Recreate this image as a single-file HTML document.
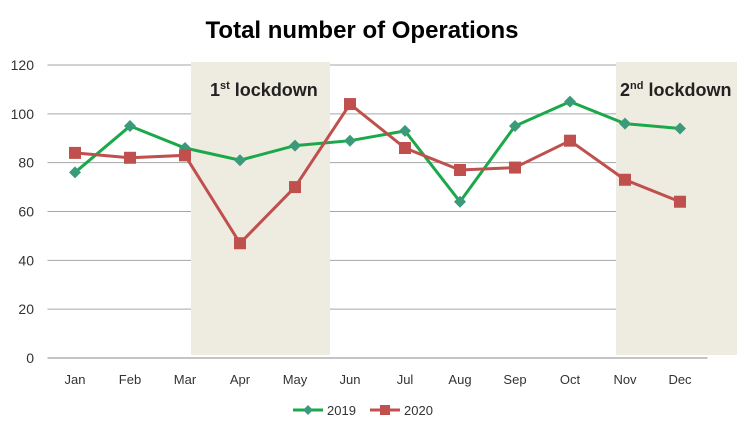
<!DOCTYPE html>
<html><head><meta charset="utf-8"><style>
body{margin:0;background:#fff}
svg{display:block;font-family:"Liberation Sans",sans-serif}
</style></head><body>
<svg width="750" height="435">
<text x="362" y="38" text-anchor="middle" font-size="24" font-weight="bold" fill="#000">Total number of Operations</text>
<g id="grid"></g>
<g id="shades"></g>
<g id="series"></g>
<g>
<line x1="293" y1="410" x2="323" y2="410" stroke="#1BA84A" stroke-width="3"/>
<path d="M308 405 L313 410 L308 415 L303 410 Z" fill="#3A9A7A"/>
<text x="327" y="415" font-size="13" fill="#333">2019</text>
<line x1="370" y1="410" x2="400" y2="410" stroke="#C0504D" stroke-width="3"/>
<rect x="380" y="405" width="10" height="10" fill="#C0504D"/>
<text x="404" y="415" font-size="13" fill="#333">2020</text>
</g>
</svg>
<script>
const months=["Jan","Feb","Mar","Apr","May","Jun","Jul","Aug","Sep","Oct","Nov","Dec"];
const s2019=[76,95,86,81,87,89,93,64,95,105,96,94];
const s2020=[84,82,83,47,70,104,86,77,78,89,73,64];
const ticks=[0,20,40,60,80,100,120];
const NS="http://www.w3.org/2000/svg";
const L=47.5,BW=55,Y0=358,Y1=65;
const x=i=>L+BW*(i+0.5);
const y=v=>Y0-(v/120)*(Y0-Y1);
function mk(t,a,p){const e=document.createElementNS(NS,t);for(const k in a)e.setAttribute(k,a[k]);p.appendChild(e);return e;}
const sh=document.getElementById('shades');
let r=mk('rect',{x:191,y:62,width:139,height:293,fill:"#EEEBE0"},sh);


r=mk('rect',{x:616,y:62,width:121,height:293,fill:"#EEEBE0"},sh);


let t=mk('text',{x:210,y:96,"font-size":18,"font-weight":"bold",fill:"#222"},sh);
t.innerHTML='1<tspan font-size="11" dy="-7">st</tspan><tspan dy="7"> lockdown</tspan>';


t=mk('text',{x:620,y:96,"font-size":18,"font-weight":"bold",fill:"#222"},sh);
t.innerHTML='2<tspan font-size="11" dy="-7">nd</tspan><tspan dy="7"> lockdown</tspan>';


const g=document.getElementById('grid');
ticks.forEach(v=>{
 const l=mk('line',{x1:L,x2:L+BW*12,y1:y(v),y2:y(v),stroke:v===0?"#888":"#A6A6A6","stroke-width":1},g);
 
 
 const tx=mk('text',{x:34,y:y(v)+5,"text-anchor":"end","font-size":14,fill:"#333"},g);
 tx.textContent=v;
 
 
});
months.forEach((m,i)=>{
 const tx=mk('text',{x:x(i),y:384,"text-anchor":"middle","font-size":13,fill:"#333"},g);
 tx.textContent=m;
 
 
});
const se=document.getElementById('series');
function draw(d,col,name,square){
 const p=mk('polyline',{points:d.map((v,i)=>x(i)+","+y(v)).join(" "),fill:"none",stroke:col,"stroke-width":3},se);
 
 
 d.forEach((v,i)=>{
  let m;
  if(square)m=mk('rect',{x:x(i)-6,y:y(v)-6,width:12,height:12,fill:"#C0504D"},se);
  else m=mk('path',{d:`M${x(i)} ${y(v)-6}L${x(i)+6} ${y(v)}L${x(i)} ${y(v)+6}L${x(i)-6} ${y(v)}Z`,fill:"#3A9A7A"},se);
  
  
 });
}
draw(s2019,"#1BA84A","series-2019",false);
draw(s2020,"#C0504D","series-2020",true);
</script>
</body></html>
